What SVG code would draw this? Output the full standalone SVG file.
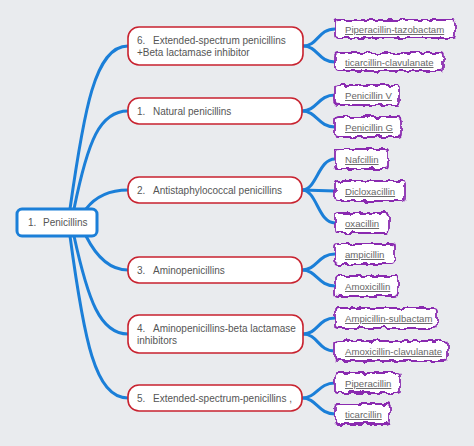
<svg xmlns="http://www.w3.org/2000/svg" width="474" height="446" viewBox="0 0 474 446">
<defs>
<filter id="wavy" x="-10%" y="-40%" width="120%" height="180%">
<feTurbulence type="fractalNoise" baseFrequency="0.16" numOctaves="1" seed="7" result="n"/>
<feDisplacementMap in="SourceGraphic" in2="n" scale="7" xChannelSelector="R" yChannelSelector="G"/>
</filter>
<style>
.bg{fill:#e9ebee}
.conn path{fill:none;stroke:#1b7fd8;stroke-width:3;stroke-linecap:round}
.root rect{fill:#fff;stroke:#1b7fd8;stroke-width:3}
.l1 rect{fill:#fff;stroke:#c8222f;stroke-width:1.6}
.leaf rect{fill:#fff;stroke:#8a2cb0;stroke-width:1.8}
text{font-family:"Liberation Sans",Arial,sans-serif;font-size:10px;fill:#555}
.leaf text{font-size:9.6px;fill:#666;text-decoration:underline}
</style>
</defs>
<rect class="bg" x="0" y="0" width="474" height="446"/>
<g class="conn">
<path d="M70,209 C84,110 95,46 128,46"/>
<path d="M74,209 C88,140 100,111 128,111"/>
<path d="M86,209 C96,196 110,190 128,190"/>
<path d="M86,236 C96,256 110,270 128,270"/>
<path d="M74,236 C88,300 100,334 128,334"/>
<path d="M70,236 C84,340 95,398 128,398"/>
<path d="M303,46 C318,46 318,29 335,29"/>
<path d="M303,46 C318,46 318,62 335,62"/>
<path d="M302,111 C317,111 318,95 335,95"/>
<path d="M302,111 C317,111 318,127 335,127"/>
<path d="M302,190 C317,190 318,159 335,159"/>
<path d="M302,190 L335,191"/>
<path d="M302,190 C317,190 318,223 335,223"/>
<path d="M302,270 C317,270 318,254 335,254"/>
<path d="M302,270 C317,270 318,286 335,286"/>
<path d="M303,334 C318,334 318,318 335,318"/>
<path d="M303,334 C318,334 318,351 335,351"/>
<path d="M302,398 C317,398 318,383 335,383"/>
<path d="M302,398 C317,398 318,414 335,414"/>
</g>
<g id="root" class="root">
<rect x="17" y="209" width="80" height="27" rx="5"/>
<text y="226"><tspan x="28">1.</tspan><tspan x="43">Penicillins</tspan></text>
</g>
<g id="n6" class="l1">
<rect x="128" y="27" width="175" height="38" rx="11"/>
<text y="44"><tspan x="137">6.</tspan><tspan x="153">Extended-spectrum penicillins</tspan></text>
<text x="137" y="56">+Beta lactamase inhibitor</text>
</g>
<g id="n1" class="l1">
<rect x="128" y="98" width="174" height="26" rx="11"/>
<text y="115"><tspan x="137">1.</tspan><tspan x="153">Natural penicillins</tspan></text>
</g>
<g id="n2" class="l1">
<rect x="128" y="177" width="174" height="26" rx="11"/>
<text y="194"><tspan x="137">2.</tspan><tspan x="153">Antistaphylococcal penicillins</tspan></text>
</g>
<g id="n3" class="l1">
<rect x="128" y="257" width="174" height="26" rx="11"/>
<text y="274"><tspan x="137">3.</tspan><tspan x="153">Aminopenicillins</tspan></text>
</g>
<g id="n4" class="l1">
<rect x="128" y="315" width="175" height="38" rx="11"/>
<text y="332"><tspan x="137">4.</tspan><tspan x="153">Aminopenicillins-beta lactamase</tspan></text>
<text x="137" y="344">inhibitors</text>
</g>
<g id="n5" class="l1">
<rect x="128" y="385" width="174" height="26" rx="11"/>
<text y="402"><tspan x="137">5.</tspan><tspan x="153">Extended-spectrum-penicillins ,</tspan></text>
</g>
<g id="leaf1" class="leaf"><rect x="335" y="20" width="120" height="18" rx="3" filter="url(#wavy)"/><text x="345" y="33">Piperacillin-tazobactam</text></g>
<g id="leaf2" class="leaf"><rect x="335" y="53" width="108" height="18" rx="3" filter="url(#wavy)"/><text x="345" y="66">ticarcillin-clavulanate</text></g>
<g id="leaf3" class="leaf"><rect x="335" y="85" width="64" height="20" rx="3" filter="url(#wavy)"/><text x="345" y="99">Penicillin V</text></g>
<g id="leaf4" class="leaf"><rect x="335" y="117" width="66" height="20" rx="3" filter="url(#wavy)"/><text x="345" y="131">Penicillin G</text></g>
<g id="leaf5" class="leaf"><rect x="335" y="149" width="53" height="20" rx="3" filter="url(#wavy)"/><text x="345" y="163">Nafcillin</text></g>
<g id="leaf6" class="leaf"><rect x="335" y="181" width="70" height="20" rx="3" filter="url(#wavy)"/><text x="345" y="195">Dicloxacillin</text></g>
<g id="leaf7" class="leaf"><rect x="335" y="213" width="54" height="20" rx="3" filter="url(#wavy)"/><text x="345" y="227">oxacillin</text></g>
<g id="leaf8" class="leaf"><rect x="335" y="244" width="60" height="20" rx="3" filter="url(#wavy)"/><text x="345" y="258">ampicillin</text></g>
<g id="leaf9" class="leaf"><rect x="335" y="276" width="63" height="20" rx="3" filter="url(#wavy)"/><text x="345" y="290">Amoxicillin</text></g>
<g id="leaf10" class="leaf"><rect x="335" y="308" width="102" height="20" rx="3" filter="url(#wavy)"/><text x="345" y="322">Ampicillin-sulbactam</text></g>
<g id="leaf11" class="leaf"><rect x="335" y="341" width="113" height="20" rx="3" filter="url(#wavy)"/><text x="345" y="355">Amoxicillin-clavulanate</text></g>
<g id="leaf12" class="leaf"><rect x="335" y="373" width="65" height="20" rx="3" filter="url(#wavy)"/><text x="345" y="387">Piperacillin</text></g>
<g id="leaf13" class="leaf"><rect x="335" y="404" width="55" height="20" rx="3" filter="url(#wavy)"/><text x="345" y="418">ticarcillin</text></g>
</svg>
